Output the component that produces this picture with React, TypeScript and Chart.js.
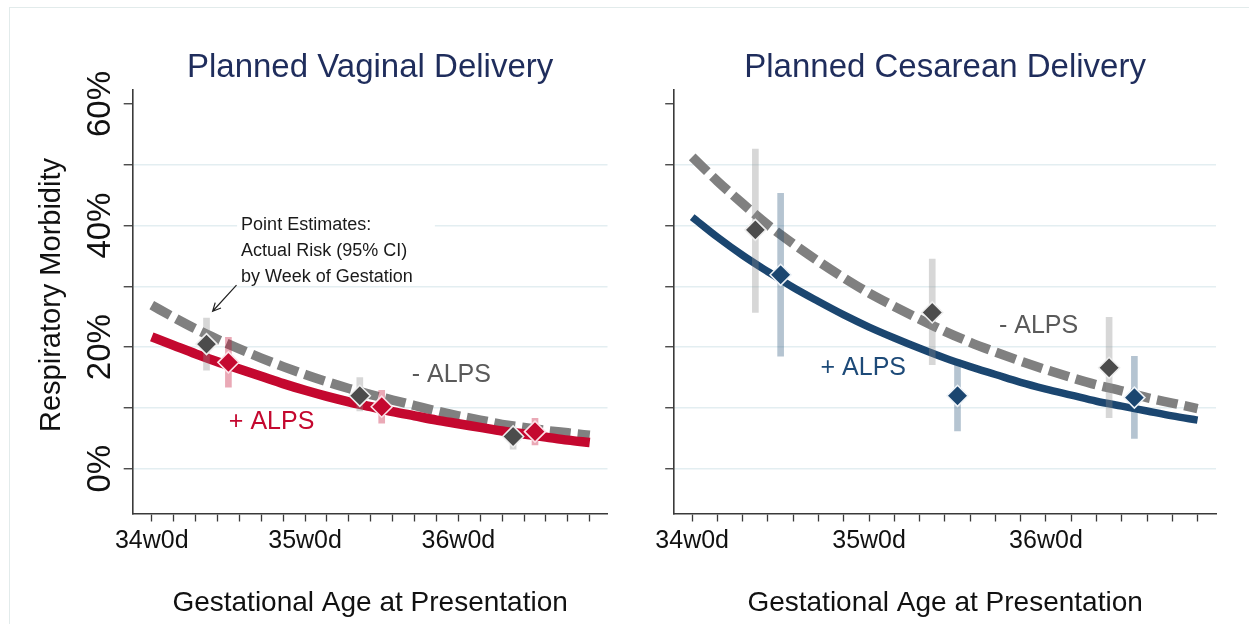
import React, { useEffect, useRef } from 'react';
import { Chart, registerables } from 'chart.js';

Chart.register(...registerables);

// ---------------- data ----------------
const curveDays = [0, 1, 2, 3, 4, 5, 6, 7, 8, 9, 10, 11, 12, 13, 14, 15, 16, 17, 18, 19, 20];
const vaginalNoAlpsCurve = [26.9, 24.9, 23.0, 21.3, 19.7, 18.2, 16.8, 15.5, 14.3, 13.2, 12.2, 11.3, 10.4, 9.5, 8.7, 8.0, 7.3, 6.8, 6.3, 5.9, 5.5];
const vaginalAlpsCurve = [21.7, 20.3, 18.9, 17.6, 16.4, 15.2, 14.0, 12.9, 11.9, 11.0, 10.2, 9.4, 8.7, 8.0, 7.4, 6.8, 6.2, 5.7, 5.2, 4.7, 4.3];
const cesareanNoAlpsCurve = [51.3, 47.3, 43.6, 40.1, 37.0, 34.1, 31.4, 28.9, 26.7, 24.6, 22.6, 20.8, 19.2, 17.7, 16.3, 15.0, 13.8, 12.8, 11.7, 10.8, 9.9];
const cesareanAlpsCurve = [41.4, 38.1, 35.1, 32.4, 29.8, 27.5, 25.3, 23.3, 21.5, 19.8, 18.2, 16.8, 15.5, 14.2, 13.1, 12.1, 11.1, 10.3, 9.5, 8.7, 8.0];

const noAlpsPointDays = [2.5, 9.5, 16.5];
const alpsPointDays = [3.5, 10.5, 17.5];

const vaginalNoAlpsEst = [20.5, 12.0, 5.3];
const vaginalNoAlpsLo = [16.2, 9.5, 3.2];
const vaginalNoAlpsHi = [24.8, 15.0, 6.9];
const vaginalAlpsEst = [17.5, 10.2, 6.1];
const vaginalAlpsLo = [13.4, 7.5, 3.9];
const vaginalAlpsHi = [21.6, 12.9, 8.3];

const cesareanNoAlpsEst = [39.3, 25.7, 16.6];
const cesareanNoAlpsLo = [25.7, 17.1, 8.4];
const cesareanNoAlpsHi = [52.6, 34.5, 24.9];
const cesareanAlpsEst = [31.9, 12.0, 11.7];
const cesareanAlpsLo = [18.5, 6.2, 5.0];
const cesareanAlpsHi = [45.3, 17.9, 18.5];

const xTickDays = [0, 1, 2, 3, 4, 5, 6, 7, 8, 9, 10, 11, 12, 13, 14, 15, 16, 17, 18, 19, 20];
const xLabelDays = [0, 7, 14];
const xTickLabels = ['34w0d', '35w0d', '36w0d'];
const yTickValues = [0, 10, 20, 30, 40, 50, 60];
const yLabelValues = [0, 20, 40, 60];

const annotationLines = ['Point Estimates:', 'Actual Risk (95% CI)', 'by Week of Gestation'];

// ---------------- layout / style ----------------
const FONT = "'Liberation Sans', Arial, Helvetica, sans-serif";
const H = 624;
const AREA_TOP = 89.3;
const AREA_BOTTOM = 513.5;
const Y_MIN = -7.37;
const Y_MAX = 62.42;

const GRAY_LINE = '#808080';
const GRAY_PT = '#4c4c4c';
const GRAY_CI = 'rgba(140,140,140,0.35)';
const AXIS = '#3a3a3a';
const TITLE = '#1f2d5c';

type Panel = {
  id: string;
  title: string;
  canvasLeft: number;
  canvasWidth: number;
  areaLeft: number;
  areaRight: number;
  xMin: number;
  xMax: number;
  noAlpsCurve: number[];
  alpsCurve: number[];
  noAlpsEst: number[];
  noAlpsLo: number[];
  noAlpsHi: number[];
  alpsEst: number[];
  alpsLo: number[];
  alpsHi: number[];
  alpsColor: string;
  alpsPointBorder: string;
  alpsCi: string;
  alpsTextColor: string;
  showYLabels: boolean;
  noAlpsLabelAt: [number, number];
  alpsLabelAt: [number, number];
  annotation: boolean;
};

const panels: Panel[] = [
  {
    id: 'vaginal',
    title: 'Planned Vaginal Delivery',
    canvasLeft: 0,
    canvasWidth: 620,
    areaLeft: 132.7,
    areaRight: 607.5,
    xMin: -0.87,
    xMax: 20.81,
    noAlpsCurve: vaginalNoAlpsCurve,
    alpsCurve: vaginalAlpsCurve,
    noAlpsEst: vaginalNoAlpsEst,
    noAlpsLo: vaginalNoAlpsLo,
    noAlpsHi: vaginalNoAlpsHi,
    alpsEst: vaginalAlpsEst,
    alpsLo: vaginalAlpsLo,
    alpsHi: vaginalAlpsHi,
    alpsColor: '#c4082f',
    alpsPointBorder: '#fbe1e7',
    alpsCi: 'rgba(196,8,47,0.35)',
    alpsTextColor: '#c4082f',
    showYLabels: true,
    noAlpsLabelAt: [11.87, 15.4],
    alpsLabelAt: [3.52, 7.7],
    annotation: true,
  },
  {
    id: 'cesarean',
    title: 'Planned Cesarean Delivery',
    canvasLeft: 620,
    canvasWidth: 629,
    areaLeft: 54.2,
    areaRight: 596,
    xMin: -0.712,
    xMax: 20.73,
    noAlpsCurve: cesareanNoAlpsCurve,
    alpsCurve: cesareanAlpsCurve,
    noAlpsEst: cesareanNoAlpsEst,
    noAlpsLo: cesareanNoAlpsLo,
    noAlpsHi: cesareanNoAlpsHi,
    alpsEst: cesareanAlpsEst,
    alpsLo: cesareanAlpsLo,
    alpsHi: cesareanAlpsHi,
    alpsColor: '#1b4670',
    alpsPointBorder: '#eef3f8',
    alpsCi: 'rgba(26,70,112,0.32)',
    alpsTextColor: '#1d4a78',
    showYLabels: false,
    noAlpsLabelAt: [12.14, 23.5],
    alpsLabelAt: [5.08, 16.6],
    annotation: false,
  },
];

// annotation placement (data coordinates of left panel)
const ANNOT_TEXT_AT: [number, number] = [4.08, 40.1];
const ARROW_TAIL: [number, number] = [3.87, 30.2];
const ARROW_HEAD: [number, number] = [2.78, 25.9];

const toPts = (xs: number[], ys: number[]) => xs.map((x, i) => ({ x, y: ys[i] }));
const toCi = (xs: number[], lo: number[], hi: number[]) => xs.map((x, i) => ({ x, y: [lo[i], hi[i]] }));

function makeDecor(p: Panel) {
  return {
    id: 'decor_' + p.id,
    beforeDatasetsDraw(chart: any) {
      if (!p.annotation) return;
      const { ctx } = chart;
      const x = chart.scales.x;
      const y = chart.scales.y;
      ctx.save();
      ctx.font = `18px ${FONT}`;
      const left = x.getPixelForValue(ANNOT_TEXT_AT[0]);
      const top = y.getPixelForValue(ANNOT_TEXT_AT[1]);
      const maxW = Math.max(...annotationLines.map((t) => ctx.measureText(t).width));
      ctx.fillStyle = '#ffffff';
      ctx.fillRect(left - 4, top - 14, maxW + 26, 72);
      ctx.fillStyle = '#1a1a1a';
      ctx.textAlign = 'left';
      ctx.textBaseline = 'middle';
      annotationLines.forEach((t, i) => ctx.fillText(t, left, top + i * 26));
      // arrow
      const tx = x.getPixelForValue(ARROW_TAIL[0]);
      const ty = y.getPixelForValue(ARROW_TAIL[1]);
      const hx = x.getPixelForValue(ARROW_HEAD[0]);
      const hy = y.getPixelForValue(ARROW_HEAD[1]);
      const ang = Math.atan2(hy - ty, hx - tx);
      ctx.strokeStyle = '#222';
      ctx.lineWidth = 1.2;
      ctx.beginPath();
      ctx.moveTo(tx, ty);
      ctx.lineTo(hx, hy);
      const hl = 9;
      ctx.moveTo(hx - hl * Math.cos(ang - 0.45), hy - hl * Math.sin(ang - 0.45));
      ctx.lineTo(hx, hy);
      ctx.lineTo(hx - hl * Math.cos(ang + 0.45), hy - hl * Math.sin(ang + 0.45));
      ctx.stroke();
      ctx.restore();
    },
    afterDatasetsDraw(chart: any) {
      const { ctx } = chart;
      const x = chart.scales.x;
      const y = chart.scales.y;
      ctx.save();
      ctx.font = `25px ${FONT}`;
      ctx.textAlign = 'left';
      ctx.textBaseline = 'middle';
      ctx.fillStyle = '#5a5a5a';
      ctx.fillText('- ALPS', x.getPixelForValue(p.noAlpsLabelAt[0]), y.getPixelForValue(p.noAlpsLabelAt[1]));
      ctx.fillStyle = p.alpsTextColor;
      ctx.fillText('+ ALPS', x.getPixelForValue(p.alpsLabelAt[0]), y.getPixelForValue(p.alpsLabelAt[1]));
      ctx.restore();
    },
    afterDraw(chart: any) {
      const { ctx, chartArea } = chart;
      ctx.save();
      ctx.font = `33px ${FONT}`;
      ctx.fillStyle = TITLE;
      ctx.textAlign = 'center';
      ctx.textBaseline = 'alphabetic';
      ctx.fillText(p.title, (chartArea.left + chartArea.right) / 2, 77);
      if (p.showYLabels) {
        ctx.translate(52, 295);
        ctx.rotate(-Math.PI / 2);
        ctx.font = `29px ${FONT}`;
        ctx.fillStyle = '#111';
        ctx.textBaseline = 'middle';
        ctx.fillText('Respiratory Morbidity', 0, 0);
      }
      ctx.restore();
    },
  };
}

function PanelChart({ p }: { p: Panel }) {
  const ref = useRef<HTMLCanvasElement | null>(null);
  useEffect(() => {
    if (!ref.current) return;
    const chart = new Chart(ref.current, {
      type: 'scatter',
      data: {
        datasets: [
          {
            type: 'scatter',
            data: toPts(alpsPointDays, p.alpsEst),
            pointStyle: 'rectRot',
            pointRadius: 10.5,
            pointBackgroundColor: p.alpsColor,
            pointBorderColor: p.alpsPointBorder,
            pointBorderWidth: 1.6,
            order: 0,
          } as any,
          {
            type: 'scatter',
            data: toPts(noAlpsPointDays, p.noAlpsEst),
            pointStyle: 'rectRot',
            pointRadius: 10.5,
            pointBackgroundColor: GRAY_PT,
            pointBorderColor: '#eeeeee',
            pointBorderWidth: 1.6,
            order: 1,
          } as any,
          {
            type: 'bar',
            data: toCi(alpsPointDays, p.alpsLo, p.alpsHi),
            backgroundColor: p.alpsCi,
            borderWidth: 0,
            barThickness: 6,
            grouped: false,
            order: 2,
          } as any,
          {
            type: 'bar',
            data: toCi(noAlpsPointDays, p.noAlpsLo, p.noAlpsHi),
            backgroundColor: GRAY_CI,
            borderWidth: 0,
            barThickness: 6,
            grouped: false,
            order: 2,
          } as any,
          {
            type: 'line',
            data: toPts(curveDays, p.alpsCurve),
            borderColor: p.alpsColor,
            borderWidth: p.id === 'vaginal' ? 9.5 : 7.5,
            pointRadius: 0,
            cubicInterpolationMode: 'monotone',
            borderCapStyle: 'butt',
            fill: false,
            order: 3,
          } as any,
          {
            type: 'line',
            data: toPts(curveDays, p.noAlpsCurve),
            borderColor: GRAY_LINE,
            borderWidth: 9.5,
            borderDash: [21, 7],
            borderCapStyle: 'butt',
            pointRadius: 0,
            cubicInterpolationMode: 'monotone',
            fill: false,
            order: 4,
          } as any,
        ],
      },
      options: {
        responsive: false,
        animation: false,
        devicePixelRatio: 1,
        events: [],
        layout: {
          padding: { left: 0, right: p.canvasWidth - p.areaRight, top: AREA_TOP, bottom: 0 },
        },
        plugins: {
          legend: { display: false },
          tooltip: { enabled: false },
          title: { display: false },
        },
        scales: {
          x: {
            type: 'linear',
            min: p.xMin,
            max: p.xMax,
            offset: false,
            afterBuildTicks: (s: any) => {
              s.ticks = xTickDays.map((v) => ({ value: v }));
            },
            afterFit: (s: any) => {
              s.height = H - AREA_BOTTOM;
            },
            grid: {
              offset: false,
              drawOnChartArea: false,
              drawTicks: true,
              tickLength: 8,
              tickColor: AXIS,
              tickWidth: 1.3,
            },
            border: { display: true, color: AXIS, width: 1.6 },
            ticks: {
              autoSkip: false,
              maxRotation: 0,
              minRotation: 0,
              padding: 5,
              color: '#111',
              font: { family: FONT, size: 25 },
              callback: (v: any) => {
                const i = xLabelDays.indexOf(Number(v));
                return i >= 0 ? xTickLabels[i] : '';
              },
            },
            title: {
              display: true,
              text: 'Gestational Age at Presentation',
              color: '#111',
              font: { family: FONT, size: 28 },
              padding: { top: 0, bottom: 4 },
            },
          },
          y: {
            type: 'linear',
            min: Y_MIN,
            max: Y_MAX,
            afterBuildTicks: (s: any) => {
              s.ticks = yTickValues.map((v) => ({ value: v }));
            },
            afterFit: (s: any) => {
              s.width = p.areaLeft;
            },
            grid: {
              offset: false,
              drawTicks: true,
              tickLength: 9,
              tickColor: AXIS,
              tickWidth: 1.3,
              lineWidth: 1.5,
              color: (c: any) => (c.tick && c.tick.value === 60 ? 'rgba(0,0,0,0)' : '#e3eef1'),
            },
            border: { display: true, color: AXIS, width: 1.6 },
            ticks: {
              autoSkip: false,
              minRotation: 90,
              maxRotation: 90,
              crossAlign: 'center',
              padding: -10,
              color: '#111',
              font: { family: FONT, size: 33 },
              callback: (v: any) =>
                p.showYLabels && yLabelValues.includes(Number(v)) ? `${v}%` : '',
            },
          },
        },
      } as any,
      plugins: [makeDecor(p)],
    });
    return () => chart.destroy();
  }, [p]);
  return (
    <canvas
      ref={ref}
      width={p.canvasWidth}
      height={H}
      style={{ position: 'absolute', left: p.canvasLeft, top: 0, width: p.canvasWidth, height: H }}
    />
  );
}

export default function App() {
  return (
    <div
      style={{
        position: 'absolute',
        left: 0,
        top: 0,
        width: 1249,
        height: 624,
        background: '#ffffff',
        overflow: 'hidden',
      }}
    >
      <div
        style={{
          position: 'absolute',
          left: 9,
          top: 7,
          right: 0,
          bottom: 0,
          borderTop: '1px solid #e2ebeb',
          borderLeft: '1px solid #e2ebeb',
        }}
      />
      {panels.map((p) => (
        <PanelChart key={p.id} p={p} />
      ))}
    </div>
  );
}
